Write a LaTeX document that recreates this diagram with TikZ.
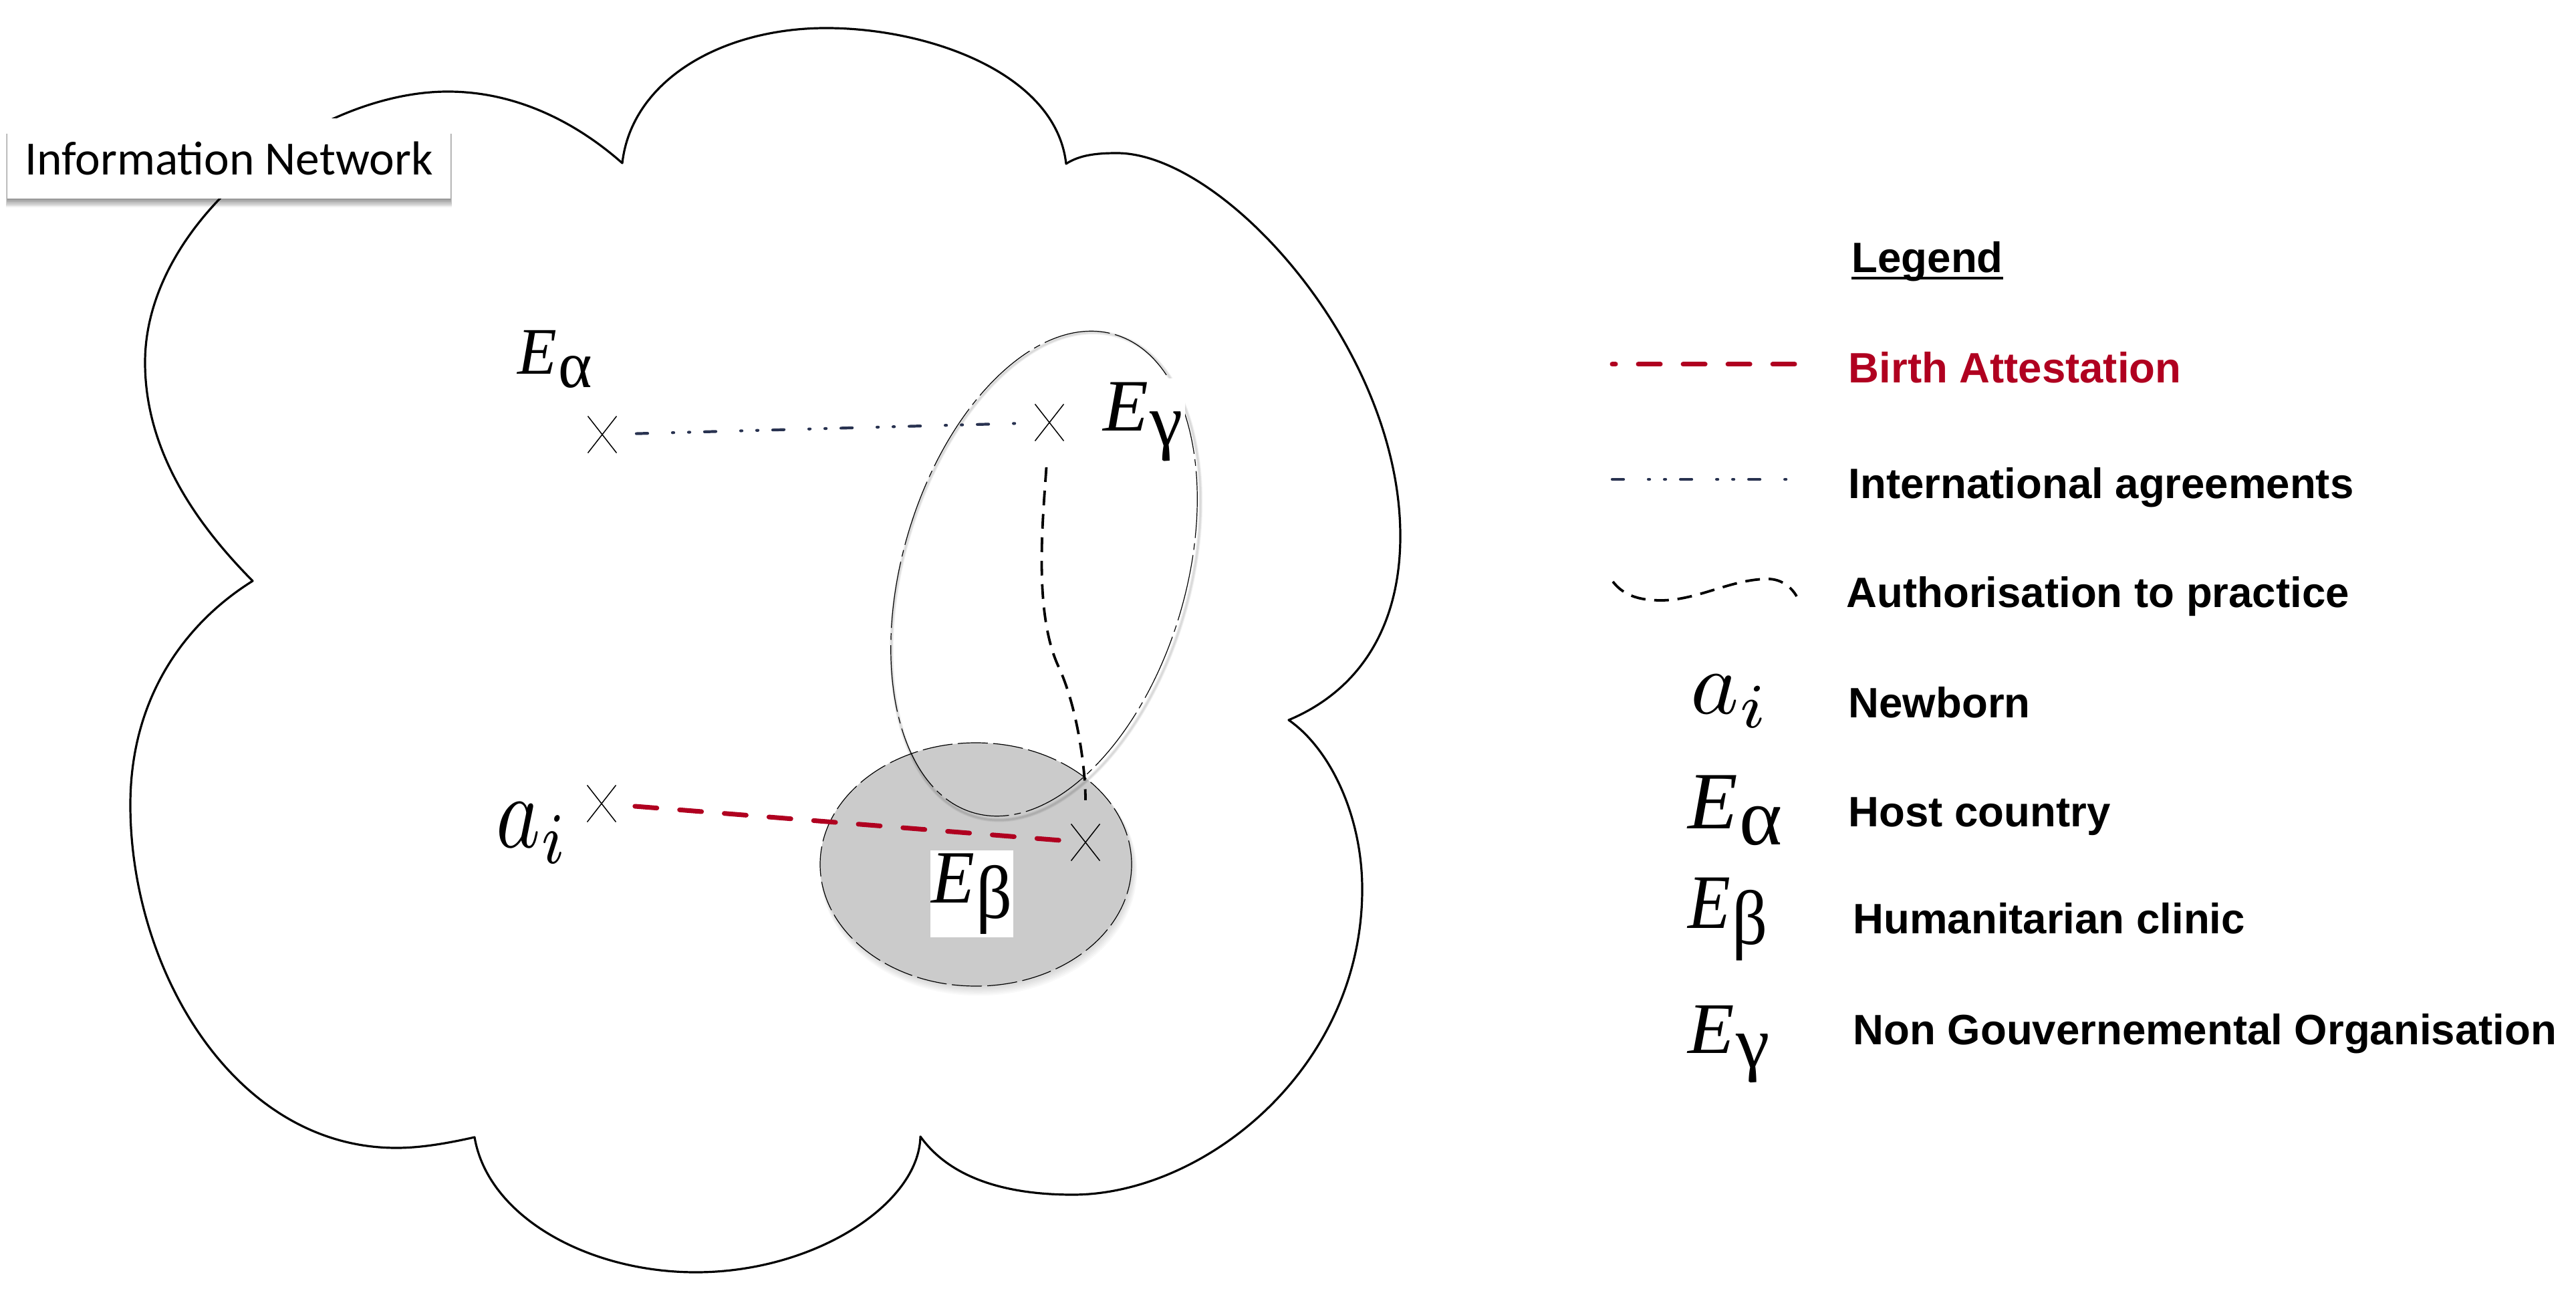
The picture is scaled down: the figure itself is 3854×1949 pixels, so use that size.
\documentclass[tikz,border=0pt]{standalone}
\usepackage{fontspec}
\usepackage{graphicx}
\usetikzlibrary{shapes.misc}
\newfontfamily\Ser{Liberation Serif}
\newfontfamily\LegFont{Liberation Sans}
\newfontfamily\LabFont{Carlito}
\definecolor{birthred}{RGB}{176,0,32}
\definecolor{navy}{RGB}{40,50,80}
\definecolor{betagrey}{RGB}{203,203,203}
\newcommand{\EG}[1]{{\Ser\itshape E}\kern0.02em\raisebox{-0.2em}{\Ser #1}}
\newcommand{\SymBox}[3]{\resizebox*{#1mm}{#2mm}{#3}}
\tikzset{
  cloudline/.style={line width=0.32mm, line join=round},
  crossmark/.style={cross out, draw, line width=0.15mm, minimum width=4.3mm, minimum height=5.5mm, inner sep=0pt, outer sep=0pt},
  birthline/.style={birthred, line width=0.7mm, line cap=round, dash pattern=on 3.3mm off 3.4mm},
  agreeline/.style={navy, line width=0.42mm, line cap=round, dash pattern=on 1.7mm off 3.7mm on 0.2mm off 2.2mm on 0.2mm off 2.2mm},
  authline/.style={black, line width=0.38mm, dash pattern=on 2.2mm off 1.3mm},
  ellline/.style={black, line width=0.12mm},
  legtext/.style={anchor=base west, inner sep=0pt, font={\LegFont\bfseries\fontsize{18.07pt}{21pt}\selectfont}},
  sym/.style={inner sep=0pt, outer sep=0pt},
}
\begin{document}
\begin{tikzpicture}[x=0.01cm, y=-0.01cm]
\fill[white] (0,0) rectangle (3854,1949);
\useasboundingbox (0,0) rectangle (3854,1949);

% cloud
\draw[cloudline] (378,869) .. controls (300,790) and (217,680) .. (217,542)
 .. controls (217,330) and (470,137) .. (670,137)
 .. controls (780,137) and (870,190) .. (931,244)
 .. controls (945,120) and (1080,42) .. (1236,42)
 .. controls (1390,42) and (1580,110) .. (1595,245)
 .. controls (1615,232) and (1640,229) .. (1671,229)
 .. controls (1830,229) and (2095,520) .. (2095,802)
 .. controls (2095,930) and (2040,1030) .. (1928,1077)
 .. controls (1990,1120) and (2038,1220) .. (2038,1330)
 .. controls (2038,1600) and (1800,1787) .. (1605,1787)
 .. controls (1500,1787) and (1420,1760) .. (1377,1700)
 .. controls (1375,1800) and (1220,1903) .. (1041,1903)
 .. controls (880,1903) and (730,1820) .. (710,1701)
 .. controls (670,1710) and (630,1717) .. (593,1717)
 .. controls (350,1717) and (195,1450) .. (195,1204)
 .. controls (195,1040) and (280,930) .. (378,869) -- cycle;

% title box
\foreach \i in {1,...,8} \fill[black, opacity=0.06] (11-\i*0.3,200) rectangle (674+\i*0.3,297+\i*1.6);
\node[fill=white, minimum width=66.3mm, minimum height=12mm, inner sep=0pt,
      font={\LabFont\fontsize{20.3pt}{24pt}\selectfont}] (title) at (342.5,237) {Information Network};

% beta ellipse
\foreach \i in {1,...,6} \fill[black, opacity=0.025] (1461+\i*0.5,1294+\i*1.5) ellipse [x radius=233+\i*0.7, y radius=182+\i*0.7];
\fill[betagrey] (1460,1293) ellipse [x radius=233, y radius=182];
\draw[ellline, dash pattern=on 4.5mm off 0.8mm] (1460,1293) ellipse [x radius=233, y radius=182];

% gamma ellipse
\begin{scope}[shift={(1565,862)}, rotate=73.5]
\foreach \i in {1,...,3} \draw[black, opacity=0.05, line width=0.4mm] (0,0) ellipse [x radius=373+\i, y radius=212+\i];
\end{scope}
\begin{scope}[shift={(1562,858)}, rotate=73.5]
\draw[ellline, dash pattern=on 10mm off 0.8mm on 1mm off 0.8mm] (0,0) ellipse [x radius=373, y radius=212];
\end{scope}

% crosses
\node[crossmark] (ea) at (901,650) {};
\node[crossmark] (eg) at (1570,632) {};
\node[crossmark] (ai) at (900,1202) {};
\node[crossmark] (eb) at (1624,1260) {};

% connectors
\draw[agreeline, shorten <=5.1mm, shorten >=3.6mm] (ea.center) -- (eg.center);
\draw[birthline, shorten <=5mm, shorten >=3.8mm] (ai.center) -- (eb.center);
\draw[authline, shorten <=6.7mm, shorten >=6.3mm] (eg.center) .. controls (1560,780) and (1546,920) .. (1585,1000) .. controls (1612,1060) and (1624,1150) .. (eb.center);

% diagram labels
\node[sym] (lEa) at (830,537) {\SymBox{11.1}{8.6}{\EG{α}}};
\node[sym, fill=white, minimum width=12.5mm, minimum height=13mm] (lEg) at (1710,631) {\SymBox{11.9}{11.8}{\EG{γ}}};
\node[sym, fill=white, minimum width=12.4mm, minimum height=12.9mm] (lEb) at (1454,1337) {\SymBox{12.1}{12}{\EG{β}}};
\node[sym] (lai) at (797,1246) {\SymBox{10.8}{9}{$a_i$}};

% legend
\node[legtext] (kLeg) at (2770,408) {Legend};
\draw[line width=0.3mm] ([yshift=-0.8mm]kLeg.base west) -- ([yshift=-0.8mm]kLeg.base east);

\coordinate (r1) at (2412,545); \coordinate (r2) at (2685,545);
\draw[birthline, dash phase=2.8mm] (r1) -- (r2);
\node[legtext, text=birthred] (kBirth) at (2765,573) {Birth Attestation};

\coordinate (b1) at (2412,717); \coordinate (b2) at (2681,717);
\draw[agreeline] (b1) -- (b2);
\node[legtext] (kInt) at (2765,745) {International agreements};

\coordinate (w1) at (2413,870); \coordinate (w2) at (2688,892);
\draw[authline] (w1) .. controls (2430,892) and (2455,898) .. (2485,898) .. controls (2540,898) and (2590,866) .. (2645,866) .. controls (2665,866) and (2680,878) .. (w2);
\node[legtext] (kAuth) at (2762,908) {Authorisation to practice};

\node[sym] (ka) at (2589,1049) {\SymBox{11.8}{7.8}{$a_i$}};
\node[legtext] (kNew) at (2765,1073) {Newborn};
\node[sym] (kEa) at (2596,1212) {\SymBox{14.1}{10.5}{\EG{α}}};
\node[legtext] (kHost) at (2765,1236) {Host country};
\node[sym] (kEb) at (2585,1375) {\SymBox{11.9}{12.3}{\EG{β}}};
\node[legtext] (kHum) at (2772,1396) {Humanitarian clinic};
\node[sym] (kEg) at (2587,1562) {\SymBox{12.2}{11.6}{\EG{γ}}};
\node[legtext] (kNgo) at (2772,1562) {Non Gouvernemental Organisation};
\end{tikzpicture}
\end{document}
